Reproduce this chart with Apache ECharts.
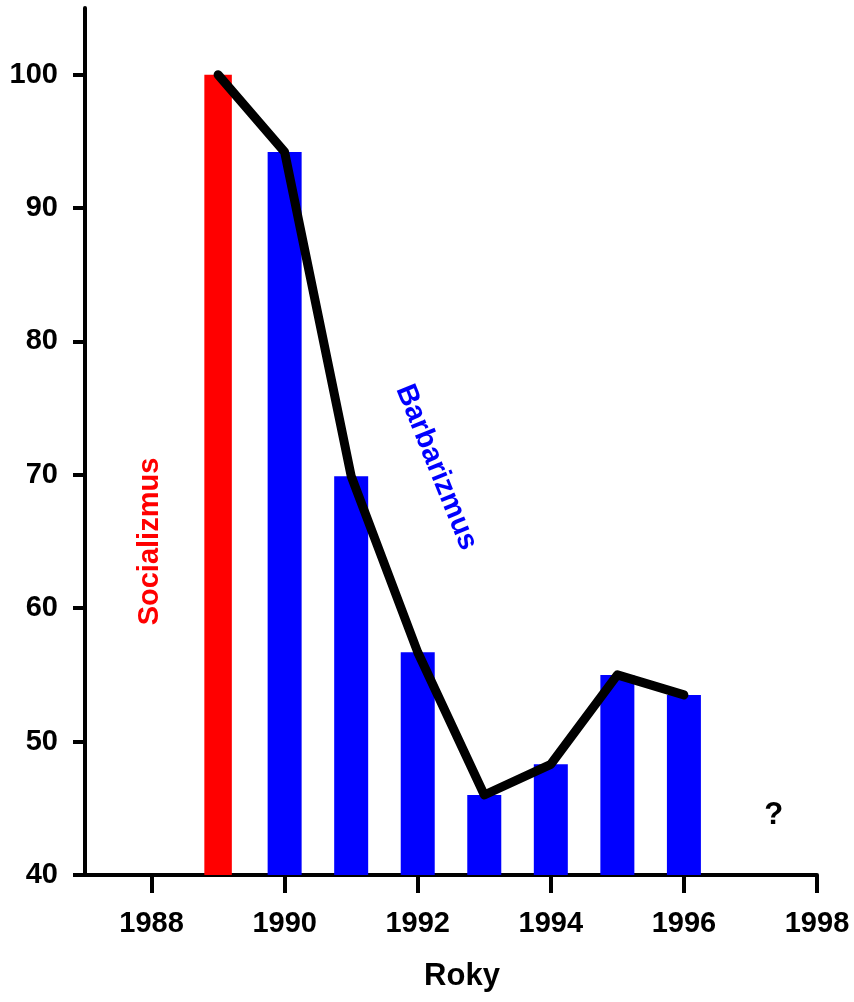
<!DOCTYPE html>
<html>
<head>
<meta charset="utf-8">
<script src="https://cdn.jsdelivr.net/npm/echarts@6/dist/echarts.min.js"></script>
<style>
html,body{margin:0;padding:0;background:#fff;}
#chart{width:854px;height:1002px;}
</style>
</head>
<body>
<div id="chart"></div>
<script>
// Data
const socYears = [1989];
const socValues = [100];
const barYears = [1990, 1991, 1992, 1993, 1994, 1995, 1996];
const barValues = [94.2, 69.9, 56.7, 46.0, 48.3, 55.0, 53.5];
const lineYears = [1989, 1990, 1991, 1992, 1993, 1994, 1995, 1996];
const lineValues = [100, 94.2, 69.9, 56.7, 46.0, 48.3, 55.0, 53.5];
const xTicks = [1988, 1990, 1992, 1994, 1996, 1998];
const yTicks = [40, 50, 60, 70, 80, 90, 100];
// annotations in data coordinates
const notes = [
  {text: 'Socializmus', x: 1987.97, y: 65.0, color: '#ff0000', rot: 90, size: 29},
  {text: 'Barbarizmus', x: 1992.28, y: 70.56, color: '#0000ff', rot: -68, size: 29},
  {text: '?', x: 1997.35, y: 44.5, color: '#000000', rot: 0, size: 31}
];

const FONT = "'Liberation Sans', Arial, Helvetica, sans-serif";
const chart = echarts.init(document.getElementById('chart'));

const xCommon = {
  type: 'value', min: 1987, max: 1998
};

chart.setOption({
  animation: false,
  backgroundColor: '#ffffff',
  grid: {left: 85, right: 37, top: 8, bottom: 127, containLabel: false},
  xAxis: [
    Object.assign({}, xCommon, {
      position: 'bottom',
      splitLine: {show: false},
      axisLine: {show: true, lineStyle: {color: '#000', width: 4}},
      axisTick: {show: true, length: 18, lineStyle: {color: '#000', width: 4}, customValues: xTicks},
      axisLabel: {show: true, margin: 34, color: '#000', fontSize: 29, fontWeight: 'bold', fontFamily: FONT,
        customValues: xTicks, formatter: v => String(v)},
      name: 'Roky', nameLocation: 'middle', nameGap: 86,
      nameTextStyle: {color: '#000', fontSize: 31, fontWeight: 'bold', fontFamily: FONT, padding: [0, 0, 0, 22]}
    }),
    Object.assign({}, xCommon, {show: false})
  ],
  yAxis: {
    type: 'value', min: 40, max: 105,
    splitLine: {show: false},
    axisLine: {show: true, lineStyle: {color: '#000', width: 4}},
    axisTick: {show: true, length: 12, lineStyle: {color: '#000', width: 4}, customValues: yTicks},
    axisLabel: {show: true, margin: 27, color: '#000', fontSize: 29, fontWeight: 'bold', fontFamily: FONT,
      customValues: yTicks, formatter: v => String(v)}
  },
  series: [
    {
      type: 'bar', xAxisIndex: 1, barWidth: 27.5,
      itemStyle: {color: '#ff0000'},
      data: socYears.map((y, i) => [y, socValues[i]]),
      z: 2
    },
    {
      type: 'bar', xAxisIndex: 0, barWidth: 34,
      itemStyle: {color: '#0000ff'},
      data: barYears.map((y, i) => [y, barValues[i]]),
      z: 2
    },
    {
      type: 'line', xAxisIndex: 0, showSymbol: false, symbol: 'none',
      lineStyle: {color: '#000', width: 9, cap: 'round', join: 'round'},
      data: lineYears.map((y, i) => [y, lineValues[i]]),
      z: 5
    }
  ]
});

const graphics = notes.map(n => {
  const p = chart.convertToPixel({xAxisIndex: 0, yAxisIndex: 0}, [n.x, n.y]);
  return {
    type: 'text', x: p[0], y: p[1], rotation: n.rot * Math.PI / 180, z: 10,
    style: {text: n.text, fill: n.color, font: 'bold ' + n.size + 'px ' + FONT, align: 'center', verticalAlign: 'middle'}
  };
});
chart.setOption({graphic: graphics});
</script>
</body>
</html>
